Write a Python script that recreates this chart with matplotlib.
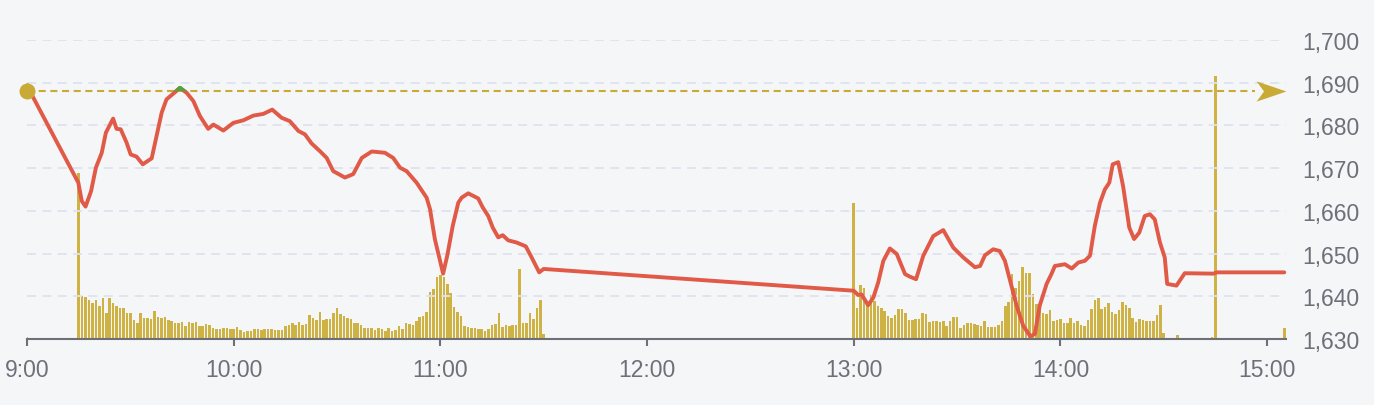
import numpy as np
import matplotlib
matplotlib.use("Agg")
import matplotlib.pyplot as plt
from matplotlib.path import Path
from matplotlib.patches import Rectangle
import matplotlib.transforms as mtransforms

plt.rcParams['font.family'] = ['Liberation Sans', 'DejaVu Sans']

# minutes after 9:00
prev_close = 1688.1
price_minutes = [0, 14.9, 15.9, 17, 18.6, 20, 21.7, 22.9, 25, 26, 27.2, 28.9, 30.1, 31.8, 33.6,
                 36.2, 37.6, 39.1, 40.5, 43, 44.4, 46.4, 48.3, 50.2, 52.6, 54.1, 57, 59.9,
                 62.8, 65.7, 68.6, 71.2, 73.9, 76.3, 78.8, 80.7, 82.6, 85, 87, 88.9, 92.3,
                 94.7, 97.2, 100.1, 103.9, 106.3, 108.3, 110.2, 113.1, 116, 117, 118.4, 120.8,
                 122, 123.6, 125.2, 126.2, 128.1, 131, 132.3, 133.9, 135.2, 136.8, 138.1,
                 139.7, 142.1, 144.8, 146.5, 148.7, 150,
                 240, 241.3, 242.3, 244.2, 245.7, 247.1, 248.6, 250.5, 252.5, 254.9, 256.3,
                 258.1, 260.2, 263.1, 266, 268.9, 271.8, 275.2, 276.7, 278.1, 280.5, 282.4,
                 283.9, 285.3, 287.3, 289.2, 291.3, 292.6, 294, 296, 297.4, 298.4, 301.3,
                 303.3, 305.2, 307.1, 308.6, 310, 311.5, 312.9, 314.2, 315.2, 316.8, 318.2,
                 320, 321.4, 322.9, 324.5, 326, 327.4, 328.9, 330.3, 331, 333.7, 336.1,
                 344.4, 345.4, 365]
prices = [1689.3, 1666.6, 1662.3, 1661.0, 1664.6, 1670.1, 1673.6, 1678.3, 1681.6, 1679.2,
          1679.1, 1676.0, 1673.2, 1672.7, 1670.9, 1672.3, 1677.5, 1683.0, 1686.1, 1687.8,
          1688.8, 1687.6, 1685.7, 1682.2, 1679.2, 1680.2, 1678.8, 1680.6, 1681.2, 1682.3,
          1682.7, 1683.7, 1681.8, 1681.0, 1678.7, 1677.9, 1675.8, 1674.0, 1672.4, 1669.3,
          1667.8, 1668.6, 1672.4, 1673.9, 1673.6, 1672.4, 1670.1, 1669.3, 1666.6, 1663.1,
          1660.4, 1653.4, 1645.3, 1649.5, 1656.5, 1661.9, 1663.1, 1664.1, 1662.9, 1660.8,
          1658.8, 1656.1, 1653.8, 1654.3, 1653.1, 1652.6, 1651.7, 1649.1, 1645.6, 1646.4,
          1641.3, 1640.3, 1640.4, 1637.9, 1639.7, 1643.2, 1648.3, 1651.2, 1649.9, 1645.2,
          1644.6, 1644.0, 1649.5, 1654.1, 1655.5, 1651.4, 1649.1, 1646.8, 1647.1, 1649.6,
          1651.0, 1650.6, 1648.3, 1644.0, 1637.8, 1633.1, 1630.6, 1631.2, 1637.8, 1642.9,
          1645.2, 1647.1, 1647.5, 1646.5, 1647.9, 1648.3, 1649.5, 1656.5, 1661.9, 1665.0,
          1666.6, 1670.9, 1671.4, 1665.8, 1656.1, 1653.4, 1654.9, 1658.8, 1659.2, 1658.0,
          1652.6, 1649.1, 1642.9, 1642.5, 1645.4, 1645.3, 1645.6, 1645.6]

# per-minute volume, morning session from 9:15, afternoon from 13:00
am_start = 15
am_volume = [167, 43, 42, 39, 36, 39, 33, 41, 26, 41,
             36, 33, 31, 31, 26, 26, 19, 16, 26, 21,
             21, 20, 28, 22, 21, 22, 19, 18, 16, 16,
             17, 13, 17, 16, 17, 13, 13, 15, 14, 11,
             10, 10, 11, 11, 10, 10, 12, 9, 7, 8,
             8, 10, 10, 9, 10, 10, 10, 9, 9, 9,
             13, 14, 16, 14, 17, 14, 15, 24, 21, 19,
             27, 19, 20, 20, 26, 31, 25, 23, 21, 20,
             16, 16, 14, 11, 11, 11, 9, 11, 10, 8,
             11, 8, 9, 13, 10, 16, 15, 14, 18, 22,
             23, 27, 47, 50, 62, 64, 62, 55, 46, 32,
             27, 23, 13, 12, 11, 11, 10, 10, 8, 10,
             14, 15, 26, 12, 14, 13, 14, 14, 70, 16,
             16, 26, 20, 31, 39, 5]
pm_start = 240
pm_volume = [136, 31, 54, 51, 37, 44, 38, 33, 31, 28,
             23, 21, 24, 30, 30, 26, 19, 19, 20, 20,
             26, 25, 17, 18, 18, 17, 18, 13, 18, 22,
             22, 11, 14, 16, 16, 15, 14, 13, 18, 12,
             12, 12, 14, 18, 33, 37, 65, 51, 58, 72,
             66, 66, 45, 35, 29, 26, 25, 29, 18, 19,
             20, 16, 16, 21, 16, 18, 14, 13, 19, 30,
             39, 41, 30, 32, 36, 27, 25, 29, 37, 34,
             31, 21, 17, 20, 19, 18, 18, 18, 24, 34,
             6]
extra_minutes = [0, 334, 344, 345, 365]
extra_volume = [2, 4, 2, 264, 11]

tick_minutes = [0, 60, 120, 180, 240, 300, 360]
tick_labels = ['9:00', '10:00', '11:00', '12:00', '13:00', '14:00', '15:00']
y_ticks = [1630, 1640, 1650, 1660, 1670, 1680, 1690, 1700]

bg = '#f5f6f8'
gold = '#c9aa35'
red = '#e05a47'
green = '#4aa83a'
gray = '#6e7079'

fig = plt.figure(figsize=(13.74, 4.06), dpi=100, facecolor=bg)
W, H = 1374, 406
ax2 = fig.add_axes([27 / W, (H - 340) / H, (1286 - 27) / W, 299 / H])
ax = fig.add_axes(ax2.get_position(), sharex=ax2)
ax2.set_facecolor(bg)
ax.patch.set_visible(False)

# volume bars
vx = np.concatenate([np.arange(am_start, am_start + len(am_volume)),
                     np.arange(pm_start, pm_start + len(pm_volume)), extra_minutes])
vy = np.concatenate([am_volume, pm_volume, extra_volume])
ax2.bar(vx, vy, width=0.74, color='#ceb244', edgecolor='none')
ax2.set_ylim(0, 300)
ax2.set_yticks([])
ax2.tick_params(axis='x', bottom=False, labelbottom=False)
for s in ax2.spines.values():
    s.set_visible(False)

xmax = 365.5
ax.set_xlim(0, xmax)
ax.set_ylim(1630, 1700)

# grid
for v in y_ticks[1:]:
    ax.axhline(v, color='#dfe2ee', lw=1.3, dashes=(5, 3.5), zorder=0)

# previous close reference + arrow
ax.plot([0, xmax - 9], [prev_close, prev_close], color=gold, lw=1.5,
        dashes=(3.4, 2.2), zorder=2)
arrow = Path([(1, 0), (-1, 0.68), (-0.5, 0), (-1, -0.68), (1, 0)],
             [Path.MOVETO, Path.LINETO, Path.LINETO, Path.LINETO, Path.CLOSEPOLY])
tr = mtransforms.blended_transform_factory(ax.transAxes, ax.transData) + \
    mtransforms.ScaledTranslation(-15 / 100, 0, fig.dpi_scale_trans)
ax.plot([1.0], [prev_close], marker=arrow, markersize=21.5, color=gold,
        markeredgewidth=0, transform=tr, clip_on=False, zorder=3)

# price line, green above previous close
ax.plot(price_minutes, prices, color=red, lw=2.8, solid_joinstyle='round',
        solid_capstyle='round', zorder=4, clip_on=False)
g, = ax.plot(price_minutes, prices, color=green, lw=2.8, solid_joinstyle='round',
             zorder=5, clip_on=True)
clip = Rectangle((0, prev_close), xmax, 100, transform=ax.transData)
g.set_clip_path(clip)

ax.plot([0], [prev_close], 'o', color=gold, markersize=10.5, zorder=6, clip_on=False)

# axes styling
ax.set_xticks(tick_minutes)
ax.set_xticklabels(tick_labels)
ax.yaxis.tick_right()
ax.set_yticks(y_ticks)
ax.set_yticklabels([f'{v:,}' for v in y_ticks])
ax.tick_params(axis='x', direction='out', length=5, width=1.5, color=gray,
               labelsize=16.5, labelcolor=gray, pad=9)
ax.tick_params(axis='y', length=0, labelsize=16.5, labelcolor=gray, pad=12)
for name, s in ax.spines.items():
    s.set_visible(name == 'bottom')
ax.spines['bottom'].set_color(gray)
ax.spines['bottom'].set_linewidth(1.5)

fig.savefig('out.png', dpi=100, facecolor=bg)
